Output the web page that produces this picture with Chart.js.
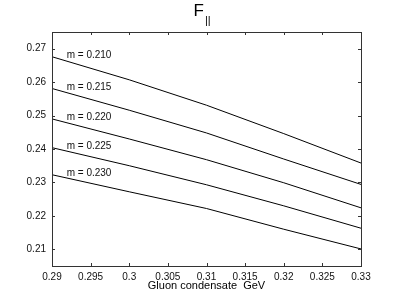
<!DOCTYPE html>
<html>
<head>
<meta charset="utf-8">
<script src="https://cdn.jsdelivr.net/npm/chart.js@4.4.1/dist/chart.umd.min.js"></script>
<style>
html,body{margin:0;padding:0;background:#fff;}
#wrap{width:399px;height:300px;position:relative;}
</style>
</head>
<body>
<div id="wrap"><canvas id="c" width="399" height="300"></canvas></div>
<script>
const condensate = [0.29, 0.30, 0.31, 0.32, 0.33];
const m210 = [0.2676, 0.2607, 0.2531, 0.2446, 0.2358];
const m215 = [0.2581, 0.2516, 0.2448, 0.2370, 0.2294];
const m220 = [0.2490, 0.2430, 0.2368, 0.2299, 0.2224];
const m225 = [0.2404, 0.2350, 0.2293, 0.2230, 0.2163];
const m230 = [0.2323, 0.2272, 0.2222, 0.2160, 0.2101];
const seriesLabels = ['m = 0.210', 'm = 0.215', 'm = 0.220', 'm = 0.225', 'm = 0.230'];
const xTicks = [0.29, 0.295, 0.3, 0.305, 0.31, 0.315, 0.32, 0.325, 0.33];
const xTickLabels = ['0.29', '0.295', '0.3', '0.305', '0.31', '0.315', '0.32', '0.325', '0.33'];
const yTicks = [0.21, 0.22, 0.23, 0.24, 0.25, 0.26, 0.27];
const yTickLabels = ['0.21', '0.22', '0.23', '0.24', '0.25', '0.26', '0.27'];
const titleMain = 'F';
const titleSub = '||';
const xTitle = 'Gluon condensate  GeV';

const allSeries = [m210, m215, m220, m225, m230];
const FONT = '"Liberation Sans", Arial, Helvetica, sans-serif';

const datasets = allSeries.map((s, i) => ({
  label: seriesLabels[i],
  data: condensate.map((x, j) => ({x: x, y: s[j]})),
  borderColor: '#000',
  borderWidth: 1,
  pointRadius: 0,
  fill: false,
  tension: 0
}));

const boxPlugin = {
  id: 'box',
  afterDraw(chart) {
    const ctx = chart.ctx;
    const a = chart.chartArea;
    const xs = chart.scales.x, ys = chart.scales.y;
    ctx.save();
    ctx.strokeStyle = '#333';
    ctx.lineWidth = 1;
    ctx.strokeRect(Math.round(a.left) + 0.5, Math.round(a.top) + 0.5, Math.round(a.right - a.left), Math.round(a.bottom - a.top));
    const tl = 3;
    ctx.beginPath();
    xTicks.forEach(v => {
      const px = Math.round(xs.getPixelForValue(v)) + 0.5;
      ctx.moveTo(px, a.bottom); ctx.lineTo(px, a.bottom - tl);
      ctx.moveTo(px, a.top); ctx.lineTo(px, a.top + tl);
    });
    yTicks.forEach(v => {
      const py = Math.round(ys.getPixelForValue(v)) + 0.5;
      ctx.moveTo(a.left, py); ctx.lineTo(a.left + tl, py);
      ctx.moveTo(a.right, py); ctx.lineTo(a.right - tl, py);
    });
    ctx.stroke();
    ctx.fillStyle = '#111';
    ctx.font = '10px ' + FONT;
    ctx.textAlign = 'left';
    ctx.textBaseline = 'middle';
    allSeries.forEach((s, i) => {
      const px = xs.getPixelForValue(0.2919);
      const py = ys.getPixelForValue(s[0]) - 1.5;
      ctx.fillText(seriesLabels[i], px, py);
    });
    const cx = (a.left + a.right) / 2;
    ctx.font = '17px ' + FONT;
    ctx.textAlign = 'left';
    ctx.textBaseline = 'alphabetic';
    ctx.fillStyle = '#000';
    const fw = ctx.measureText(titleMain).width;
    ctx.fillText(titleMain, cx - 13, 16);
    ctx.font = '11px ' + FONT;
    ctx.fillText(titleSub, cx - 13 + fw + 1, 24);
    ctx.font = '11px ' + FONT;
    ctx.textAlign = 'center';
    ctx.textBaseline = 'middle';
    ctx.fillText(xTitle, cx, 286);
    ctx.restore();
  }
};

new Chart(document.getElementById('c'), {
  type: 'line',
  data: { datasets: datasets },
  options: {
    responsive: false,
    animation: false,
    layout: { padding: { top: 32, right: 38, left: 0, bottom: 0 } },
    plugins: { legend: { display: false }, tooltip: { enabled: false }, title: { display: false } },
    scales: {
      x: {
        type: 'linear',
        min: 0.29, max: 0.33,
        afterBuildTicks(scale) { scale.ticks = xTicks.map(v => ({value: v})); },
        afterFit(scale) { scale.height = 34; },
        grid: { display: false, drawTicks: false },
        border: { display: false },
        ticks: {
          color: '#111',
          font: { family: FONT, size: 10 },
          padding: 5,
          maxRotation: 0,
          autoSkip: false,
          callback(v, idx) { return xTickLabels[idx]; }
        }
      },
      y: {
        type: 'linear',
        min: 0.205, max: 0.275,
        afterBuildTicks(scale) { scale.ticks = yTicks.map(v => ({value: v})); },
        afterFit(scale) { scale.width = 52; },
        grid: { display: false, drawTicks: false },
        border: { display: false },
        ticks: {
          color: '#111',
          font: { family: FONT, size: 10 },
          padding: 6,
          autoSkip: false,
          callback(v, idx) { return yTickLabels[idx]; }
        }
      }
    }
  },
  plugins: [boxPlugin]
});
</script>
</body>
</html>
